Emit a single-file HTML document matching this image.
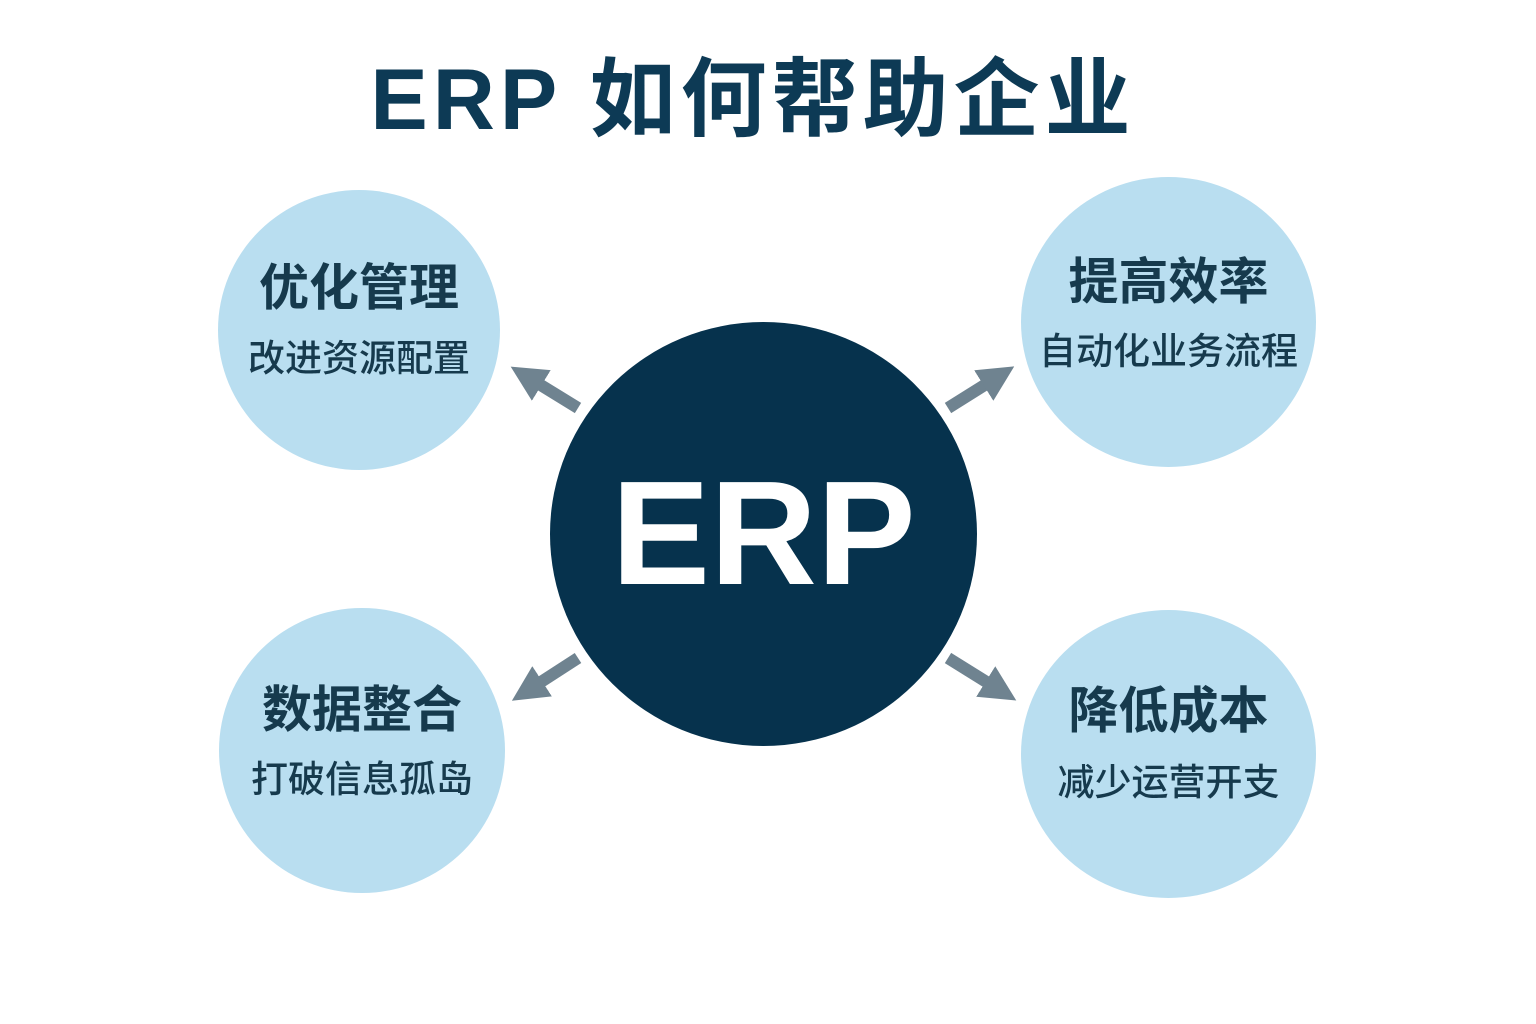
<!DOCTYPE html>
<html><head><meta charset="utf-8"><style>
html,body{margin:0;padding:0;background:#fff;}
body{width:1536px;height:1024px;position:relative;overflow:hidden;font-family:"Liberation Sans","Noto Sans CJK SC",sans-serif;}
.title{position:absolute;left:-15px;width:1536px;top:50px;text-align:center;font-size:86px;font-weight:bold;color:#0d3a55;line-height:100px;letter-spacing:5px;}
.c{position:absolute;border-radius:50%;background:#b9def0;text-align:center;color:#163a4d;}
.c .h{position:absolute;left:0;right:0;font-size:50px;font-weight:bold;line-height:60px;}
.c .s{position:absolute;left:0;right:0;font-size:37px;line-height:44px;font-weight:500;}
.erp{position:absolute;left:550px;top:322px;width:427px;height:424px;border-radius:50%;background:#06324d;color:#fff;font-size:148px;font-weight:bold;text-align:center;line-height:424px;}
</style></head><body>
<div class="title">ERP 如何帮助企业</div>
<svg width="1536" height="1024" style="position:absolute;left:0;top:0">
<defs><marker id="a" markerWidth="3" markerHeight="3" refX="1.5" refY="1.5" orient="auto" markerUnits="strokeWidth"><path d="M0,0 L3,1.5 L0,3 Z" fill="#6f8390"/></marker></defs>
<g stroke="#6f8390" stroke-width="12" marker-end="url(#a)">
<line x1="578" y1="408" x2="526" y2="376"/>
<line x1="948" y1="408" x2="999" y2="376"/>
<line x1="578" y1="658" x2="527" y2="691"/>
<line x1="948" y1="658" x2="1001" y2="691"/>
</g></svg>
<div class="c" style="left:218px;top:190px;width:282px;height:280px"><div class="h" style="top:68px">优化管理</div><div class="s" style="top:147px">改进资源配置</div></div>
<div class="c" style="left:1021px;top:177px;width:295px;height:290px"><div class="h" style="top:75px">提高效率</div><div class="s" style="top:153px">自动化业务流程</div></div>
<div class="c" style="left:219px;top:608px;width:286px;height:285px"><div class="h" style="top:72px">数据整合</div><div class="s" style="top:150px">打破信息孤岛</div></div>
<div class="c" style="left:1021px;top:610px;width:295px;height:288px"><div class="h" style="top:71px">降低成本</div><div class="s" style="top:151px">减少运营开支</div></div>
<div class="erp">ERP</div>
</body></html>
